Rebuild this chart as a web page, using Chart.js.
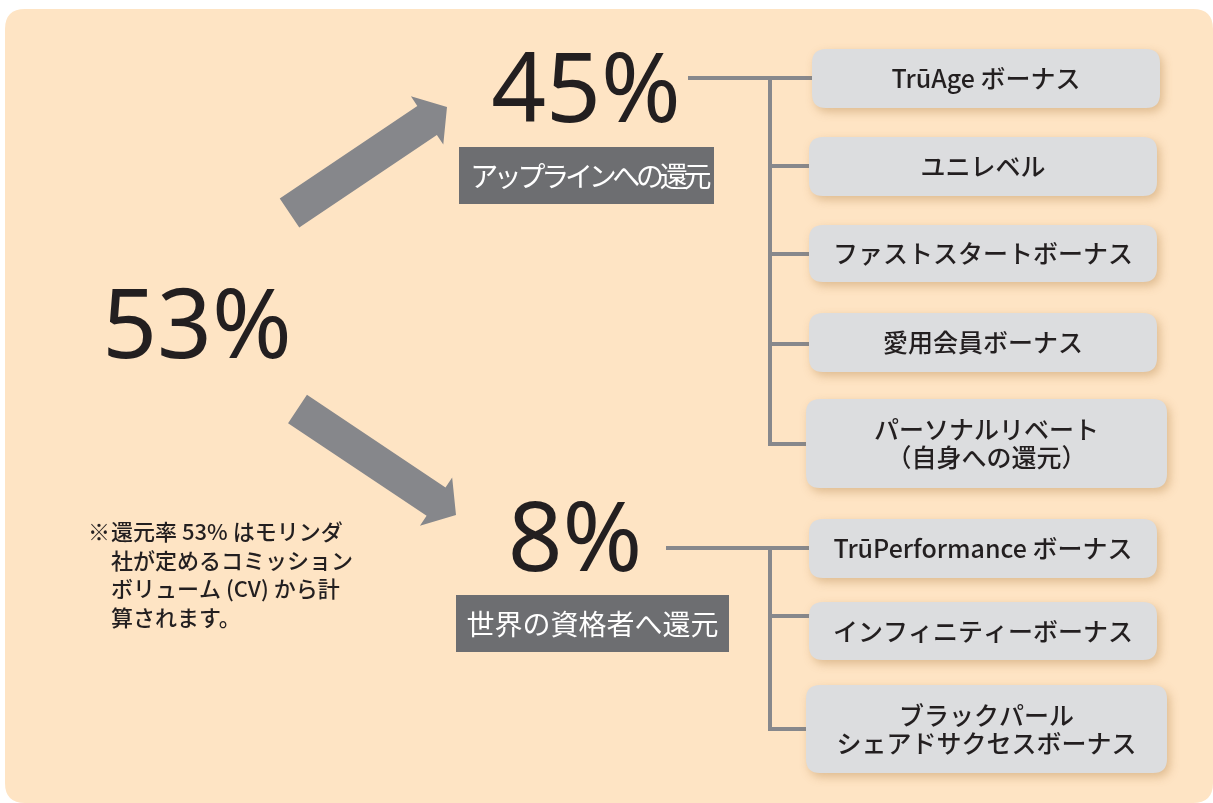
<!DOCTYPE html>
<html><head><meta charset="utf-8">
<script src="https://cdn.jsdelivr.net/npm/chart.js@4/dist/chart.umd.min.js"></script>
<style>html,body{margin:0;padding:0;background:#ffffff;}#wrap{width:1213px;height:803px;position:relative;}</style>
</head><body><div id="wrap"><canvas id="c"></canvas></div>
<script>
// ---- data ----
const totalRate = 53;
const groupRates = [45, 8];
const groupLabels = ["アップラインへの還元", "世界の資格者へ還元"];
const uplineBonuses = ["TrūAge ボーナス", "ユニレベル", "ファストスタートボーナス", "愛用会員ボーナス", "パーソナルリベート\n（自身への還元）"];
const globalBonuses = ["TrūPerformance ボーナス", "インフィニティーボーナス", "ブラックパール\nシェアドサクセスボーナス"];
const noteMark = "※";
const noteLines = ["還元率 53% はモリンダ", "社が定めるコミッション", "ボリューム (CV) から計", "算されます。"];

// ---- layout (diagram coordinates) ----
const layout = {
  panel: {x0: 5, y0: 9, x1: 1213, y1: 803, r: 20},
  total: {cx: 197, base: 358},
  groups: [
    {rate: {cx: 586, base: 122}, label: {x0: 459, y0: 147, x1: 714, y1: 204, spacing: -4.3},
     hline: {x0: 688, y: 78}, vx: 770, branches: [78, 166, 254, 344, 444],
     boxes: [[812,49,1160,108],[809,137,1157,196],[809,225,1157,282],[809,313,1157,372],[806,399,1167,488]]},
    {rate: {cx: 575, base: 571}, label: {x0: 456, y0: 595, x1: 729, y1: 652, spacing: 0},
     hline: {x0: 666, y: 548}, vx: 770, branches: [548, 616, 729],
     boxes: [[809,519,1157,578],[809,602,1157,660],[806,685,1167,773]]}
  ],
  arrows: [
    {sx: 289.5, sy: 213, tx: 447, ty: 107, w: 35, hw: 58, hl: 24},
    {sx: 297.5, sy: 409, tx: 456, ty: 515, w: 34, hw: 58, hl: 24}
  ],
  note: {markX: 88, x: 111, y0: 532, dy: 28.5}
};

const C = {panel:'#fee4c4', line:'#87888c', arrow:'#86878b', label:'#6d6e71', box:'#dcdddf', text:'#231f20'};
const JP = '"Noto Sans CJK JP", "Noto Sans", sans-serif';

function rr(ctx, x, y, w, h, r){
  ctx.beginPath();
  ctx.moveTo(x+r,y); ctx.lineTo(x+w-r,y); ctx.quadraticCurveTo(x+w,y,x+w,y+r);
  ctx.lineTo(x+w,y+h-r); ctx.quadraticCurveTo(x+w,y+h,x+w-r,y+h);
  ctx.lineTo(x+r,y+h); ctx.quadraticCurveTo(x,y+h,x,y+h-r);
  ctx.lineTo(x,y+r); ctx.quadraticCurveTo(x,y,x+r,y); ctx.closePath();
}

const diagramPlugin = {
  id: 'diagram',
  beforeDatasetsDraw(chart){
    const ctx = chart.ctx;
    const X = v => chart.scales.x.getPixelForValue(v);
    const Y = v => chart.scales.y.getPixelForValue(v);
    ctx.save();
    // panel
    const p = layout.panel;
    ctx.fillStyle = C.panel;
    rr(ctx, X(p.x0), Y(p.y0), X(p.x1)-X(p.x0), Y(p.y1)-Y(p.y0), p.r); ctx.fill();

    // arrows
    ctx.fillStyle = C.arrow;
    layout.arrows.forEach(a => {
      const sx=X(a.sx), sy=Y(a.sy), tx=X(a.tx), ty=Y(a.ty);
      const L = Math.hypot(tx-sx, ty-sy), dx=(tx-sx)/L, dy=(ty-sy)/L, nx=-dy, ny=dx;
      const bx = tx-dx*a.hl, by = ty-dy*a.hl;
      ctx.beginPath();
      ctx.moveTo(sx+nx*a.w/2, sy+ny*a.w/2);
      ctx.lineTo(bx+nx*a.w/2, by+ny*a.w/2);
      ctx.lineTo(bx+nx*a.hw/2, by+ny*a.hw/2);
      ctx.lineTo(tx, ty);
      ctx.lineTo(bx-nx*a.hw/2, by-ny*a.hw/2);
      ctx.lineTo(bx-nx*a.w/2, by-ny*a.w/2);
      ctx.lineTo(sx-nx*a.w/2, sy-ny*a.w/2);
      ctx.closePath(); ctx.fill();
    });

    // total rate
    ctx.fillStyle = C.text;
    ctx.textAlign = 'center'; ctx.textBaseline = 'alphabetic';
    ctx.font = '400 96px "Noto Sans", sans-serif';
    ctx.fillText(totalRate + '%', X(layout.total.cx), Y(layout.total.base));

    const bonusSets = [uplineBonuses, globalBonuses];
    layout.groups.forEach((g, gi) => {
      // connectors
      ctx.strokeStyle = C.line; ctx.lineWidth = 4; ctx.lineCap = 'butt';
      ctx.beginPath();
      ctx.moveTo(X(g.hline.x0), Y(g.hline.y)); ctx.lineTo(X(g.vx), Y(g.hline.y));
      ctx.moveTo(X(g.vx), Y(g.branches[0]) - 2); ctx.lineTo(X(g.vx), Y(g.branches[g.branches.length-1]) + 2);
      g.branches.forEach((by, i) => {
        ctx.moveTo(X(g.vx) - 2, Y(by)); ctx.lineTo(X(g.boxes[i][0]) + 4, Y(by));
      });
      ctx.stroke();

      // rate
      ctx.fillStyle = C.text; ctx.textAlign = 'center'; ctx.textBaseline = 'alphabetic';
      ctx.font = '400 96px "Noto Sans", sans-serif';
      ctx.fillText(groupRates[gi] + '%', X(g.rate.cx), Y(g.rate.base));

      // label
      const l = g.label;
      ctx.fillStyle = C.label;
      ctx.fillRect(X(l.x0), Y(l.y0), X(l.x1)-X(l.x0), Y(l.y1)-Y(l.y0));
      ctx.fillStyle = '#ffffff';
      ctx.font = '400 28px ' + JP;
      ctx.textBaseline = 'middle';
      ctx.letterSpacing = l.spacing + 'px';
      ctx.fillText(groupLabels[gi], (X(l.x0)+X(l.x1))/2 - l.spacing/2, (Y(l.y0)+Y(l.y1))/2 + 1);
      ctx.letterSpacing = '0px';

      // boxes
      g.boxes.forEach((b, i) => {
        ctx.save();
        ctx.shadowColor = 'rgba(170,120,60,0.38)';
        ctx.shadowBlur = 10; ctx.shadowOffsetX = 3; ctx.shadowOffsetY = 4;
        ctx.fillStyle = C.box;
        rr(ctx, X(b[0]), Y(b[1]), X(b[2])-X(b[0]), Y(b[3])-Y(b[1]), 14); ctx.fill();
        ctx.restore();
        const lines = bonusSets[gi][i].split('\n');
        ctx.fillStyle = C.text; ctx.textAlign = 'center'; ctx.textBaseline = 'middle';
        ctx.font = '500 25px ' + JP;
        const cx = (X(b[0])+X(b[2]))/2, cy = (Y(b[1])+Y(b[3]))/2;
        lines.forEach((t, k) => {
          ctx.fillText(t, cx, cy + (k - (lines.length-1)/2) * 28);
        });
      });
    });

    // note
    const n = layout.note;
    ctx.fillStyle = C.text; ctx.textAlign = 'left'; ctx.textBaseline = 'middle';
    ctx.font = '500 22px ' + JP;
    ctx.fillText(noteMark, X(n.markX), Y(n.y0));
    noteLines.forEach((t, i) => ctx.fillText(t, X(n.x), Y(n.y0 + i*n.dy)));
    ctx.restore();
  }
};

new Chart(document.getElementById('c').getContext('2d'), {
  type: 'scatter',
  data: { datasets: [{ label: 'rates', data: [], pointRadius: 0 }] },
  options: {
    responsive: true, maintainAspectRatio: false, animation: false,
    layout: { padding: 0 },
    plugins: { legend: { display: false }, tooltip: { enabled: false } },
    scales: {
      x: { type: 'linear', min: 0, max: 1213, display: false },
      y: { type: 'linear', min: 0, max: 803, reverse: true, display: false }
    }
  },
  plugins: [diagramPlugin]
});
</script></body></html>
